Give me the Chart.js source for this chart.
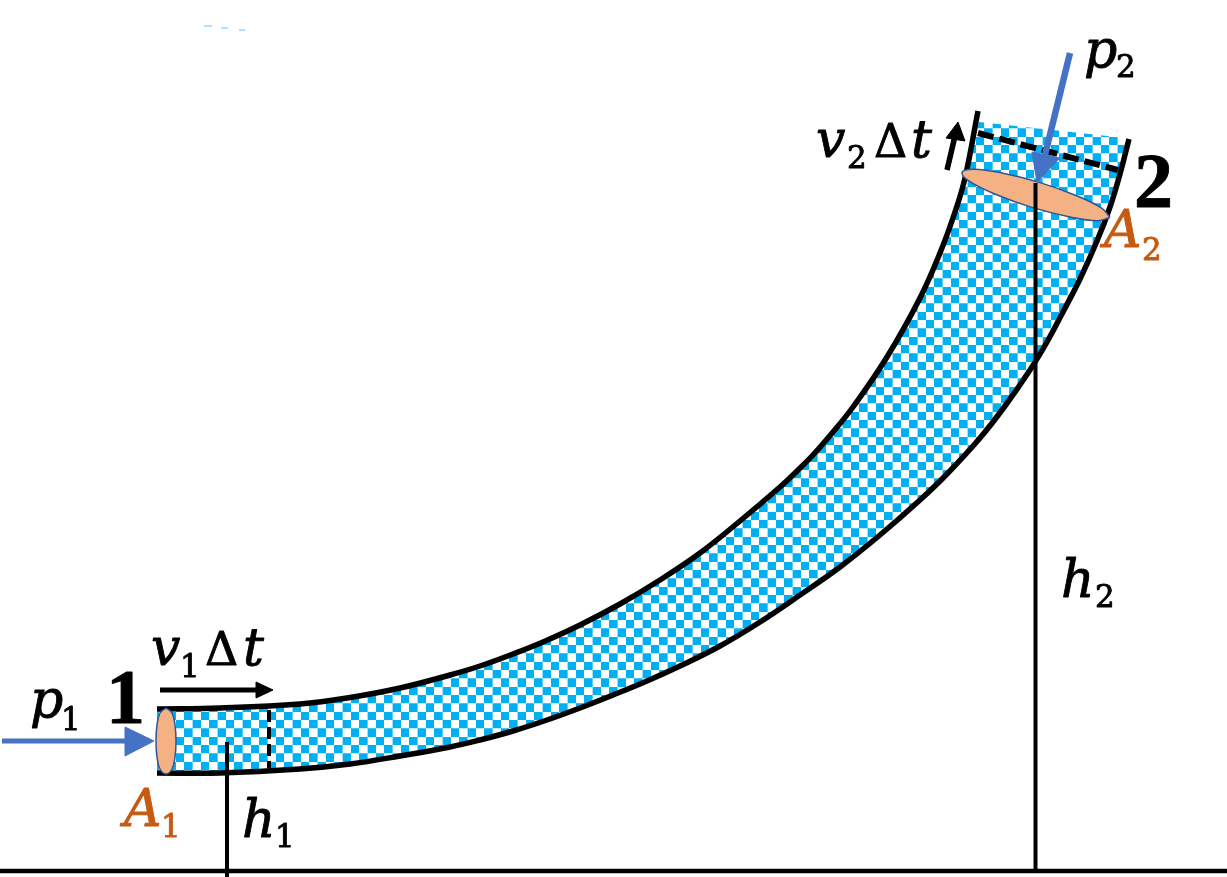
<!DOCTYPE html>
<html>
<head>
<meta charset="utf-8">
<title>Bernoulli tube</title>
<script src="https://cdn.jsdelivr.net/npm/chart.js@4"></script>
<style>
    html, body { margin: 0; padding: 0; background: #ffffff; overflow: hidden; }
    canvas { display: block; }
</style>
</head>
<body>
<canvas id="chart" width="1227" height="877"></canvas>
<script>
// Everything is in picture units
const upperEdge = [
    [157, 709], [220, 708], [300, 704], [350, 697.5], [400, 688], [450, 675], [480, 666], [513, 654],
    [543, 642], [580, 625], [620, 604], [660, 580], [700, 553], [740, 521], [780, 487], [797, 471],
    [813, 455], [833, 432], [853, 407], [887, 357], [920, 298], [940, 253], [955, 212], [965, 178], [978, 111]
];
const lowerEdge = [
    [157, 773], [220, 773], [300, 769], [350, 764], [400, 756], [450, 747], [480, 740], [513, 731],
    [547, 720], [580, 708], [613, 695], [647, 681], [680, 666], [720, 646], [760, 622], [800, 595],
    [840, 567], [880, 535], [920, 500], [947, 474], [980, 438], [1005, 406], [1030, 370], [1047, 342],
    [1063, 312], [1080, 279], [1097, 241], [1110, 207], [1120, 174], [1129, 139]
];
const tubeCap = [[979, 122], [1126, 138]];
const groundLine = [[0, 871], [1227, 871]];
const heightLine1 = [[227, 742], [227, 877]];
const heightLine2 = [[1035.5, 183], [1035.5, 871]];
const slice1 = [[269, 710], [269, 768]];
const slice2 = [[978, 133], [1118, 170]];
const section1 = [
    [166, 708], [172, 713], [175, 725], [176, 741], [175, 757], [172, 769], [166, 774],
    [160, 769], [157, 757], [156, 741], [157, 725], [160, 713], [166, 708]
];
const section2 = [
    [1110, 217.5], [1098, 220.7], [1070, 217], [1032, 207.4], [996, 194.5], [970, 181.7], [962, 172.5],
    [974, 169.3], [1002, 173], [1040, 182.6], [1076, 195.5], [1102, 208.3], [1110, 217.5]
];
const arrowP1 = [[2, 741], [127, 741]];
const arrowP1Head = [[125, 727], [154, 741], [125, 756], [125, 727]];
const arrowP2 = [[1070, 53], [1045, 155]];
const arrowP2Head = [[1032, 152], [1037, 182], [1060, 158], [1032, 152]];
const arrowV1 = [[160, 690], [258, 690]];
const arrowV1Head = [[256, 682], [273, 690], [256, 698], [256, 682]];
const arrowV2 = [[947, 170], [955, 136]];
const arrowV2Head = [[946, 138], [958, 122], [965, 141], [946, 138]];
const specks = [[204, 26], [212, 26], null, [221, 28], [228, 28], null, [239, 30], [245, 30]];

const MATH = 'italic 52px "DejaVu Serif"';
const SUB = '31px "DejaVu Serif"';
const DELTA = '46px "DejaVu Serif"';
const BOLD = 'bold 78px "Liberation Serif"';
const labels = [
    { t: 'p', x: 30, y: 717, f: MATH, c: '#000000' },
    { t: '1', x: 61, y: 730, f: SUB, c: '#000000' },
    { t: '1', x: 106, y: 723, f: BOLD, c: '#000000' },
    { t: 'v', x: 151, y: 665, f: MATH, c: '#000000' },
    { t: '1', x: 180, y: 677, f: SUB, c: '#000000' },
    { t: '\u0394', x: 205, y: 665, f: DELTA, c: '#000000' },
    { t: 't', x: 243, y: 665, f: MATH, c: '#000000' },
    { t: 'A', x: 124, y: 826, f: MATH, c: '#c55a11' },
    { t: '1', x: 161, y: 837, f: SUB, c: '#c55a11' },
    { t: 'h', x: 242, y: 837, f: MATH, c: '#000000' },
    { t: '1', x: 275, y: 847, f: SUB, c: '#000000' },
    { t: 'p', x: 1084, y: 67, f: MATH, c: '#000000' },
    { t: '2', x: 1116, y: 77, f: SUB, c: '#000000' },
    { t: 'v', x: 816, y: 157, f: MATH, c: '#000000' },
    { t: '2', x: 847, y: 168, f: SUB, c: '#000000' },
    { t: '\u0394', x: 874, y: 157, f: DELTA, c: '#000000' },
    { t: 't', x: 911, y: 157, f: MATH, c: '#000000' },
    { t: '2', x: 1134, y: 207, f: BOLD, c: '#000000' },
    { t: 'A', x: 1104, y: 247, f: MATH, c: '#c55a11' },
    { t: '2', x: 1142, y: 260, f: SUB, c: '#c55a11' },
    { t: 'h', x: 1061, y: 597, f: MATH, c: '#000000' },
    { t: '2', x: 1095, y: 607, f: SUB, c: '#000000' }
];

const toPoints = arr => arr.map(p => (p ? { x: p[0], y: p[1] } : { x: null, y: null }));

function checkerPattern(ctx) {
    const tile = document.createElement('canvas');
    tile.width = 50;
    tile.height = 50;
    const t = tile.getContext('2d');
    t.fillStyle = '#ffffff';
    t.fillRect(0, 0, 50, 50);
    t.fillStyle = '#00b0f0';
    t.fillRect(0, 0, 25, 25);
    t.fillRect(25, 25, 25, 25);
    const pattern = ctx.createPattern(tile, 'repeat');
    // tile is drawn at 3x so the period can be 16.67px, like the reference
    pattern.setTransform(new DOMMatrix().translate(9.2, 3.4).scale(1 / 3));
    return pattern;
}

function stroke(data, color, width, extra) {
    return Object.assign({ data: toPoints(data), borderColor: color, borderWidth: width, tension: 0 }, extra);
}

function solid(data, color) {
    return stroke(data, color, 1, { backgroundColor: color, fill: 'shape' });
}

const labelPlugin = {
    id: 'labels',
    afterDatasetsDraw(chart) {
        const { ctx, scales } = chart;
        ctx.save();
        ctx.textBaseline = 'alphabetic';
        ctx.lineWidth = 0.9;
        ctx.lineJoin = 'round';
        labels.forEach(l => {
            const px = scales.x.getPixelForValue(l.x);
            const py = scales.y.getPixelForValue(l.y);
            ctx.font = l.f;
            ctx.fillStyle = l.c;
            ctx.strokeStyle = l.c;
            ctx.fillText(l.t, px, py);
            // the reference glyphs are heavier than the installed fonts
            ctx.strokeText(l.t, px, py);
        });
        ctx.restore();
    }
};

const ctx = document.getElementById('chart').getContext('2d');

const tubeOutline = upperEdge.slice(0, -1).concat(tubeCap, lowerEdge.slice(0, -1).reverse());

// listed bottom to top, order is set from this below
const layers = [
    stroke(specks, '#a6e4ff', 2, { spanGaps: false }),
    stroke(groundLine, '#000000', 4.5),
    stroke(tubeOutline, 'rgba(0,0,0,0)', 0, { backgroundColor: checkerPattern(ctx), fill: 'shape' }),
    stroke(upperEdge, '#000000', 5.5, { tension: 0.4 }),
    stroke(lowerEdge, '#000000', 5.5, { tension: 0.4 }),
    stroke(slice1, '#000000', 4, { borderDash: [12, 5] }),
    stroke(slice2, '#000000', 6, { borderDash: [16, 6] }),
    stroke(section1, '#2f5597', 1.5, { backgroundColor: '#f4b183', fill: 'shape', tension: 0.4 }),
    stroke(section2, '#2f5597', 1.5, { backgroundColor: '#f4b183', fill: 'shape', tension: 0.4 }),
    stroke(heightLine1, '#000000', 4),
    stroke(heightLine2, '#000000', 4),
    stroke(arrowP1, '#4472c4', 5),
    solid(arrowP1Head, '#4472c4'),
    stroke(arrowP2, '#4472c4', 6.5),
    solid(arrowP2Head, '#4472c4'),
    stroke(arrowV1, '#000000', 5),
    solid(arrowV1Head, '#000000'),
    stroke(arrowV2, '#000000', 5.5),
    solid(arrowV2Head, '#000000')
];

new Chart(ctx, {
    type: 'scatter',
    data: { datasets: layers.map((d, i) => Object.assign(d, { order: layers.length - i })) },
    options: {
        responsive: false,
        animation: false,
        showLine: true,
        pointRadius: 0,
        layout: { padding: 0 },
        events: [],
        plugins: {
            legend: { display: false },
            tooltip: { enabled: false }
        },
        scales: {
            x: { type: 'linear', min: 0, max: 1227, display: false },
            y: { type: 'linear', min: 0, max: 877, reverse: true, display: false }
        }
    },
    plugins: [labelPlugin]
});
</script>
</body>
</html>
